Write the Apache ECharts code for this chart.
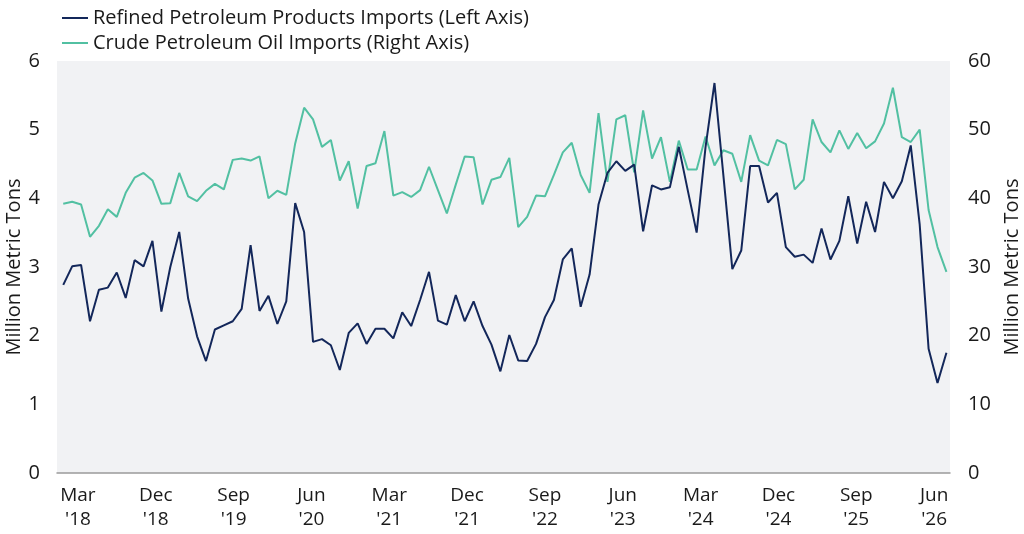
<!DOCTYPE html>
<html>
<head>
<meta charset="utf-8">
<script src="https://cdn.jsdelivr.net/npm/echarts@6/dist/echarts.min.js"></script>
<style>
html,body{margin:0;padding:0;background:#fff;}
#chart{width:1024px;height:534px;}
</style>
</head>
<body>
<div id="chart"></div>
<script>
// Monthly observations, Mar 2018 .. Jun 2026 (100 months)
const startMonth = 'Mar 2018';
const refinedImports = [
  2.74, 3.01, 3.03, 2.21, 2.67, 2.70, 2.92, 2.55, 3.10, 3.01,
  3.38, 2.35, 3.00, 3.51, 2.54, 1.99, 1.63, 2.09, 2.15, 2.21,
  2.39, 3.32, 2.36, 2.58, 2.17, 2.50, 3.93, 3.51, 1.91, 1.95,
  1.86, 1.50, 2.04, 2.18, 1.88, 2.10, 2.10, 1.96, 2.34, 2.14,
  2.52, 2.93, 2.22, 2.16, 2.59, 2.21, 2.50, 2.14, 1.87, 1.48,
  2.01, 1.64, 1.63, 1.88, 2.27, 2.52, 3.11, 3.27, 2.42, 2.89,
  3.91, 4.37, 4.54, 4.40, 4.49, 3.52, 4.19, 4.13, 4.16, 4.75,
  4.12, 3.50, 4.75, 5.68, 4.33, 2.97, 3.24, 4.47, 4.47, 3.94,
  4.08, 3.29, 3.15, 3.18, 3.06, 3.56, 3.11, 3.38, 4.03, 3.34,
  3.95, 3.51, 4.24, 4.00, 4.25, 4.77, 3.62, 1.81, 1.31, 1.75
];
const crudeImports = [
  39.2, 39.5, 39.1, 34.4, 36.0, 38.4, 37.3, 40.8, 43.0, 43.7,
  42.6, 39.2, 39.3, 43.7, 40.3, 39.6, 41.1, 42.1, 41.3, 45.6,
  45.8, 45.5, 46.1, 40.0, 41.1, 40.5, 48.0, 53.2, 51.5, 47.5,
  48.5, 42.6, 45.4, 38.5, 44.7, 45.1, 49.8, 40.4, 40.9, 40.2,
  41.2, 44.6, 41.2, 37.8, 42.0, 46.1, 46.0, 39.1, 42.7, 43.1,
  45.9, 35.8, 37.3, 40.4, 40.3, 43.4, 46.7, 48.1, 43.4, 40.8,
  52.4, 42.4, 51.5, 52.1, 43.8, 52.8, 45.8, 48.9, 42.4, 48.4,
  44.2, 44.2, 49.0, 44.8, 47.0, 46.5, 42.4, 49.2, 45.5, 44.8,
  48.5, 47.9, 41.3, 42.7, 51.5, 48.2, 46.7, 49.9, 47.2, 49.5,
  47.3, 48.3, 50.9, 56.1, 48.9, 48.2, 50.0, 38.3, 32.9, 29.3
];
const tickLabels = [
  "Mar\n'18", "Dec\n'18", "Sep\n'19", "Jun\n'20", "Mar\n'21", "Dec\n'21",
  "Sep\n'22", "Jun\n'23", "Mar\n'24", "Dec\n'24", "Sep\n'25", "Jun\n'26"
];
const leftTicks = [0, 1, 2, 3, 4, 5, 6];
const rightTicks = [0, 10, 20, 30, 40, 50, 60];
const seriesNames = ['Refined Petroleum Products Imports (Left Axis)', 'Crude Petroleum Oil Imports (Right Axis)'];
const axisTitle = 'Million Metric Tons';

const FONT = 'Open Sans';
const DARK = '#13275a';
const TEAL = '#52c0a2';
const TXT = '#1a1a1a';

const chart = echarts.init(document.getElementById('chart'), null, {renderer: 'canvas'});
chart.setOption({
  animation: false,
  textStyle: {fontFamily: FONT},
  legend: {
    orient: 'vertical', left: 57, top: 3, itemWidth: 26, itemHeight: 2, itemGap: 5,
    icon: 'rect',
    textStyle: {fontFamily: FONT, fontSize: 20, color: TXT},
    data: seriesNames
  },
  grid: [
    {left: 57, right: 74, top: 61, bottom: 61, show: true, backgroundColor: '#f1f2f4', borderWidth: 0,
     containLabel: false, outerBoundsMode: 'none'},
    {left: 39, right: 51, top: 61, bottom: 61, show: false, containLabel: false, outerBoundsMode: 'none'}
  ],
  xAxis: [
    {type: 'value', gridIndex: 0, min: -0.7, max: 99.4,
     axisLine: {show: true, onZero: false, lineStyle: {color: '#9b9b9b', width: 1.5}},
     axisTick: {show: false}, axisLabel: {show: false}, splitLine: {show: false}},
    {type: 'category', gridIndex: 1, data: tickLabels, boundaryGap: true,
     axisLine: {show: false}, axisTick: {show: false}, splitLine: {show: false},
     axisLabel: {interval: 0, fontFamily: FONT, fontSize: 19, lineHeight: 24, color: TXT, margin: 11}}
  ],
  yAxis: [
    {type: 'value', gridIndex: 0, position: 'left', min: leftTicks[0], max: leftTicks[leftTicks.length-1], interval: 1,
     name: axisTitle, nameLocation: 'middle', nameRotate: 90, nameGap: 33, nameMoveOverlap: false,
     nameTextStyle: {fontFamily: FONT, fontSize: 20, color: TXT},
     axisLine: {show: false}, axisTick: {show: false}, splitLine: {show: false},
     axisLabel: {fontFamily: FONT, fontSize: 20, color: TXT, margin: 17}},
    {type: 'value', gridIndex: 0, position: 'right', min: rightTicks[0], max: rightTicks[rightTicks.length-1], interval: 10,
     name: axisTitle, nameLocation: 'middle', nameRotate: 90, nameGap: 52,
     nameTextStyle: {fontFamily: FONT, fontSize: 20, color: TXT},
     axisLine: {show: false}, axisTick: {show: false}, splitLine: {show: false},
     axisLabel: {fontFamily: FONT, fontSize: 20, color: TXT, margin: 18}},
    {type: 'value', gridIndex: 1, show: false, min: 0, max: 1}
  ],
  series: [
    {name: seriesNames[1], type: 'line', xAxisIndex: 0, yAxisIndex: 1, symbol: 'none',
     lineStyle: {color: TEAL, width: 2}, itemStyle: {color: TEAL},
     data: crudeImports.map((v, i) => [i, v])},
    {name: seriesNames[0], type: 'line', xAxisIndex: 0, yAxisIndex: 0, symbol: 'none',
     lineStyle: {color: DARK, width: 2}, itemStyle: {color: DARK},
     data: refinedImports.map((v, i) => [i, v])}
  ]
});
</script>
</body>
</html>
